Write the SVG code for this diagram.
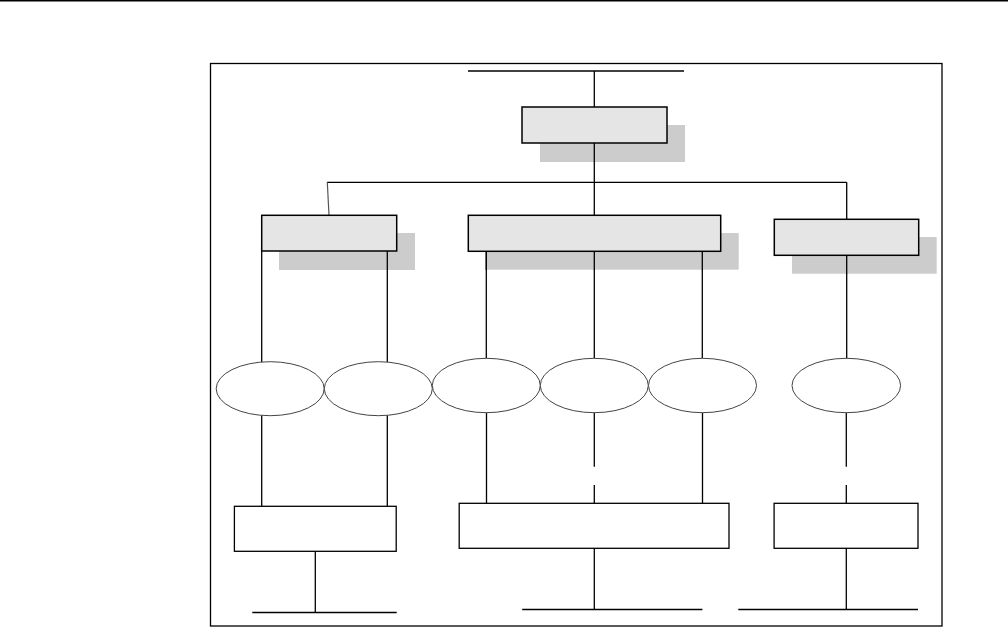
<svg xmlns="http://www.w3.org/2000/svg" width="1008" height="638" viewBox="0 0 1008 638">
<style>
.ln{stroke:#000;stroke-width:1.3;fill:none}
.box{fill:#e5e5e5;stroke:#000;stroke-width:1.5}
.sh{fill:#cccccc;stroke:none}
.ell{fill:#fff;stroke:#444;stroke-width:1}
.wbox{fill:#fff;stroke:#000;stroke-width:1.3}
</style>
<rect width="1008" height="638" fill="#fff"/>
<line x1="0" y1="0.8" x2="1008" y2="0.8" stroke="#000" stroke-width="1.6"/>
<rect x="210.5" y="63.5" width="731.5" height="562.5" fill="none" stroke="#000" stroke-width="1.3"/>
<g id="connectors">
<line class="ln" x1="468" y1="71" x2="684" y2="71"/>
<line class="ln" x1="594.3" y1="71" x2="594.3" y2="215"/>
<line class="ln" x1="327" y1="182.3" x2="846.7" y2="182.3"/>
<line x1="327.3" y1="182.3" x2="329" y2="215" stroke="#555" stroke-width="1.2"/>
<line class="ln" x1="846.7" y1="182.3" x2="846.7" y2="219"/>
<line class="ln" x1="261.7" y1="251" x2="261.7" y2="370"/>
<line class="ln" x1="387.3" y1="251" x2="387.3" y2="370"/>
<line class="ln" x1="486.3" y1="251" x2="486.3" y2="360"/>
<line class="ln" x1="594.3" y1="251" x2="594.3" y2="360"/>
<line class="ln" x1="702.3" y1="251" x2="702.3" y2="360"/>
<line class="ln" x1="846.7" y1="255" x2="846.7" y2="360"/>
<line class="ln" x1="261.7" y1="410" x2="261.7" y2="506.3"/>
<line class="ln" x1="387.3" y1="410" x2="387.3" y2="506.3"/>
<line class="ln" x1="486.5" y1="410" x2="486.5" y2="503.3"/>
<line class="ln" x1="594.3" y1="410" x2="594.3" y2="466.7"/>
<line class="ln" x1="594.3" y1="485" x2="594.3" y2="503.3"/>
<line class="ln" x1="702.5" y1="410" x2="702.5" y2="503.3"/>
<line class="ln" x1="846.3" y1="410" x2="846.3" y2="466.7"/>
<line class="ln" x1="846.3" y1="485" x2="846.3" y2="503.3"/>
<line class="ln" x1="315.3" y1="551" x2="315.3" y2="612.5"/>
<line class="ln" x1="252.3" y1="612.5" x2="396.7" y2="612.5"/>
<line class="ln" x1="594.3" y1="548" x2="594.3" y2="609.5"/>
<line class="ln" x1="522.2" y1="609.5" x2="702.4" y2="609.5"/>
<line class="ln" x1="846.3" y1="548" x2="846.3" y2="609.5"/>
<line class="ln" x1="738.3" y1="609.5" x2="918" y2="609.5"/>
</g>
<g id="top">
<rect class="sh" x="540" y="125" width="145" height="37"/>
<line class="ln" x1="594.3" y1="143" x2="594.3" y2="162"/>
<rect class="box" x="522" y="107" width="145" height="36"/>
</g>
<g id="left">
<rect class="sh" x="279" y="233" width="136" height="37"/>
<line class="ln" x1="387.3" y1="251" x2="387.3" y2="270"/>
<rect class="box" x="261.7" y="215.3" width="135" height="35.7"/>
</g>
<g id="center">
<rect class="sh" x="486.7" y="233" width="252" height="36.7"/>
<line class="ln" x1="486.3" y1="251" x2="486.3" y2="270"/>
<line class="ln" x1="594.3" y1="251" x2="594.3" y2="270"/>
<line class="ln" x1="702.3" y1="251" x2="702.3" y2="270"/>
<rect class="box" x="468.3" y="215.3" width="252.4" height="36"/>
</g>
<g id="right">
<rect class="sh" x="792" y="237" width="144.7" height="36.7"/>
<line class="ln" x1="846.7" y1="255" x2="846.7" y2="274"/>
<rect class="box" x="774.3" y="219.3" width="144.4" height="36"/>
</g>
<g id="e1"><ellipse class="ell" cx="270.2" cy="388.7" rx="54" ry="27"/></g>
<g id="e2"><ellipse class="ell" cx="378.3" cy="388.7" rx="54" ry="27"/></g>
<g id="e3"><ellipse class="ell" cx="486.3" cy="385.5" rx="54" ry="27.2"/></g>
<g id="e4"><ellipse class="ell" cx="594.3" cy="385.5" rx="54" ry="27.2"/></g>
<g id="e5"><ellipse class="ell" cx="702.5" cy="385.5" rx="54" ry="27.2"/></g>
<g id="e6"><ellipse class="ell" cx="846.3" cy="385.5" rx="54.3" ry="27.2"/></g>
<g id="b1"><rect class="wbox" x="234.4" y="506.3" width="161.8" height="45"/></g>
<g id="b2"><rect class="wbox" x="459.2" y="503.3" width="269.8" height="45"/></g>
<g id="b3"><rect class="wbox" x="774.1" y="503.3" width="143.9" height="45"/></g>
</svg>
